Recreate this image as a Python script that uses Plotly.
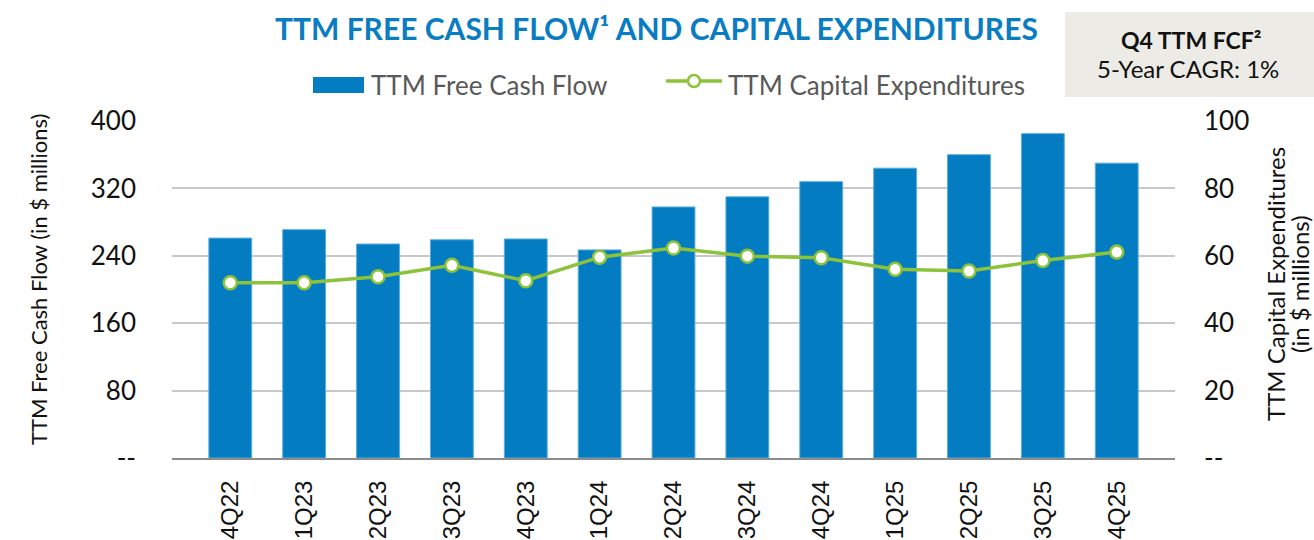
import plotly.graph_objects as go

categories = ["4Q22", "1Q23", "2Q23", "3Q23", "4Q23", "1Q24", "2Q24", "3Q24",
              "4Q24", "1Q25", "2Q25", "3Q25", "4Q25"]
fcf = [261, 271, 254, 259, 260, 247, 298, 310, 328, 344, 360, 385, 350]
capex = [52.0, 52.0, 53.8, 57.2, 52.6, 59.6, 62.3, 59.9, 59.4, 56.0, 55.5, 58.6, 61.1]

left_ticks = [0, 80, 160, 240, 320, 400]
left_ticktext = ["--", "80", "160", "240", "320", "400"]
right_ticks = [0, 20, 40, 60, 80, 100]
right_ticktext = ["--", "20", "40", "60", "80", "100"]

W, H = 1314, 540
ML, MR, MT, MB = 172, 139, 121, 82
PW = W - ML - MR
PH = H - MT - MB

def px(x):
    return (x - ML) / PW

def py(y):
    return (H - MB - y) / PH

font = "Lato, 'Open Sans', sans-serif"
BLUE = "#037CC2"
GREEN = "#8DC33B"

fig = go.Figure()
fig.add_trace(go.Bar(
    x=categories, y=fcf, name="TTM Free Cash Flow",
    marker=dict(color=BLUE, line=dict(color="#5AAEDD", width=1)),
    yaxis="y",
))
fig.add_trace(go.Scatter(
    x=categories, y=capex, name="TTM Capital Expenditures",
    mode="lines+markers",
    line=dict(color=GREEN, width=3.5),
    marker=dict(size=13, color="white", line=dict(color=GREEN, width=2.5)),
    yaxis="y2",
))

fig.update_layout(
    width=W, height=H,
    margin=dict(l=ML, r=MR, t=MT, b=MB, pad=0, autoexpand=False),
    paper_bgcolor="white", plot_bgcolor="white",
    bargap=0.42,
    showlegend=False,
    xaxis=dict(type="category", tickangle=-90, showgrid=False, showline=True,
               linecolor="#8C8C8C", linewidth=2, ticks="", automargin=False,
               ticklabelstandoff=11,
               tickfont=dict(family="Liberation Sans, Arial, sans-serif", size=24, color="#111111")),
    yaxis=dict(range=[0, 400], tickvals=left_ticks, ticktext=left_ticktext,
               showgrid=True, gridcolor="#C8C8C8", gridwidth=1.5, zeroline=False,
               showline=False, ticks="", ticklabelstandoff=35, automargin=False,
               tickfont=dict(family=font, size=26, color="#111111")),
    yaxis2=dict(range=[0, 100], tickvals=right_ticks, ticktext=right_ticktext,
                overlaying="y", side="right", showgrid=False, zeroline=False,
                showline=False, ticks="", ticklabelstandoff=28, automargin=False,
                tickfont=dict(family=font, size=26, color="#111111")),
)

def ann(text, x, y, size, color="#111111", angle=0, xanchor="center"):
    return dict(text=text, x=px(x), y=py(y), xref="paper", yref="paper",
                showarrow=False, xanchor=xanchor, yanchor="middle", textangle=angle,
                font=dict(family=font, size=size, color=color))

annotations = [
    ann("<b>TTM FREE CASH FLOW¹ AND CAPITAL EXPENDITURES</b>", 656, 28, 30, "#0A7DC2"),
    ann("<b>Q4 TTM FCF²</b>", 1191, 40, 23),
    ann("5-Year CAGR: 1%", 1188, 68, 24),
    ann("TTM Free Cash Flow (in $ millions)", 38, 280, 22, angle=-90),
    ann("TTM Capital Expenditures", 1275, 284, 24, angle=-90),
    ann("(in $ millions)", 1299, 284, 24, angle=-90),
    ann("TTM Free Cash Flow", 369, 85, 26, "#595959", xanchor="left"),
    ann("TTM Capital Expenditures", 726, 85, 26, "#595959", xanchor="left"),
]
fig.update_layout(annotations=annotations)

shapes = [
    dict(type="rect", xref="paper", yref="paper",
         x0=px(1065), x1=px(1320), y0=py(97), y1=py(12),
         fillcolor="#ECEBE6", line=dict(width=0), layer="below"),
    dict(type="rect", xref="paper", yref="paper",
         x0=px(313), x1=px(364), y0=py(93), y1=py(77),
         fillcolor=BLUE, line=dict(width=0)),
    dict(type="line", xref="paper", yref="paper",
         x0=px(666), x1=px(722), y0=py(81), y1=py(81),
         line=dict(color=GREEN, width=3.5)),
    dict(type="circle", xref="paper", yref="paper",
         x0=px(688), x1=px(700), y0=py(87), y1=py(75),
         fillcolor="white", line=dict(color=GREEN, width=2.5)),
]
fig.update_layout(shapes=shapes)

fig.write_html("out.html", config={"displayModeBar": False},
               post_script="document.body.style.margin='0';document.body.style.padding='0';")
